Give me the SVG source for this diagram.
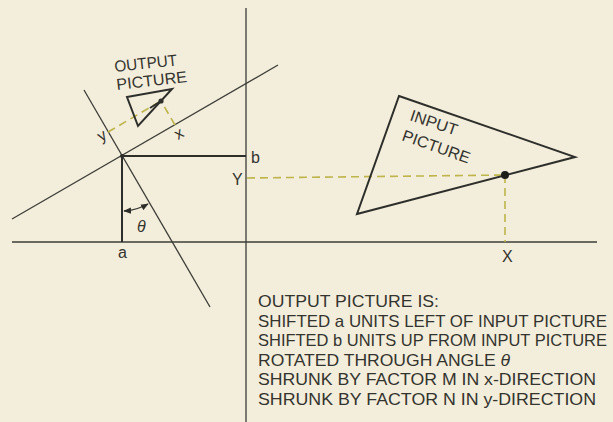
<svg xmlns="http://www.w3.org/2000/svg" width="613" height="422" viewBox="0 0 613 422">
<style>
.ln{stroke:#3c3d36;fill:none;stroke-width:1.3}
.th{stroke:#2e2f2a;fill:none;stroke-width:2}
.dash{stroke:#bdb54a;fill:none;stroke-width:1.6;stroke-dasharray:8,5}
.t{font-family:"Liberation Sans",Arial,sans-serif;fill:#33342e;font-size:16px}
.tb{font-family:"Liberation Sans",Arial,sans-serif;fill:#33342e;font-size:16.5px}
</style>
<defs>
<marker id="ah" viewBox="0 0 10 10" refX="9" refY="5" markerWidth="6" markerHeight="6" orient="auto-start-reverse"><path d="M0,1 L10,5 L0,9 z" fill="#2e2f2a"/></marker>
</defs>
<rect width="613" height="422" fill="#f3eddc"/>
<g id="connectors">
<line class="ln" x1="246" y1="8" x2="246" y2="422"/>
<line class="ln" x1="12" y1="242" x2="597" y2="242"/>
<line class="ln" x1="12" y1="219" x2="278" y2="65"/>
<line class="ln" x1="84" y1="90" x2="210" y2="307"/>
<line class="th" x1="122" y1="156" x2="246" y2="156"/>
<line class="th" x1="122" y1="156" x2="122" y2="242"/>
<circle cx="122" cy="156" r="2" fill="#2e2f2a"/>
<path class="ln" d="M124,211 A55,55 0 0 0 148,204" stroke-width="1.5" marker-start="url(#ah)" marker-end="url(#ah)"/>
<line class="dash" x1="108" y1="132" x2="161" y2="101"/>
<line class="dash" x1="175" y1="125" x2="161" y2="101"/>
<line class="dash" x1="247" y1="178" x2="505" y2="175"/>
<line class="dash" x1="505" y1="175" x2="505" y2="242"/>
</g>
<g id="output-picture">
<polygon class="th" points="127,97 172,89 138,126" stroke-width="1.8"/>
<line class="th" x1="150" y1="108" x2="161" y2="101"/>
<circle cx="161" cy="101" r="2.6" fill="#2e2f2a"/>
<text class="t" transform="translate(115,72) rotate(-6)" textLength="63" lengthAdjust="spacingAndGlyphs">OUTPUT</text>
<text class="t" transform="translate(117,90) rotate(-6.5)" textLength="71" lengthAdjust="spacingAndGlyphs">PICTURE</text>
</g>
<g id="input-picture">
<polygon class="th" points="399,96 575,157 357,214" stroke-width="1.8"/>
<circle cx="505" cy="175" r="4" fill="#1e1f1b"/>
<text class="t" transform="translate(409,120) rotate(18.5)" textLength="49" lengthAdjust="spacingAndGlyphs">INPUT</text>
<text class="t" transform="translate(401,140) rotate(19.5)" textLength="71" lengthAdjust="spacingAndGlyphs">PICTURE</text>
</g>
<g id="labels">
<text class="t" transform="translate(101,142) rotate(-30)">y</text>
<text class="t" transform="translate(178,140) rotate(-30)">x</text>
<text class="t" x="251" y="163">b</text>
<text class="t" x="232" y="185">Y</text>
<text class="t" x="118" y="258">a</text>
<text class="t" x="137" y="232" font-style="italic">θ</text>
<text class="t" x="502" y="262">X</text>
</g>
<g id="caption">
<text class="tb" x="258" y="307" textLength="181" lengthAdjust="spacingAndGlyphs">OUTPUT PICTURE IS:</text>
<text class="tb" x="258" y="326.5" textLength="349" lengthAdjust="spacingAndGlyphs">SHIFTED a UNITS LEFT OF INPUT PICTURE</text>
<text class="tb" x="258" y="346" textLength="349" lengthAdjust="spacingAndGlyphs">SHIFTED b UNITS UP FROM INPUT PICTURE</text>
<text class="tb" x="258" y="365.5" textLength="252" lengthAdjust="spacingAndGlyphs">ROTATED THROUGH ANGLE  <tspan font-style="italic">θ</tspan></text>
<text class="tb" x="258" y="385" textLength="338" lengthAdjust="spacingAndGlyphs">SHRUNK BY FACTOR M IN x-DIRECTION</text>
<text class="tb" x="258" y="404.5" textLength="338" lengthAdjust="spacingAndGlyphs">SHRUNK BY FACTOR N IN y-DIRECTION</text>
</g>
</svg>
